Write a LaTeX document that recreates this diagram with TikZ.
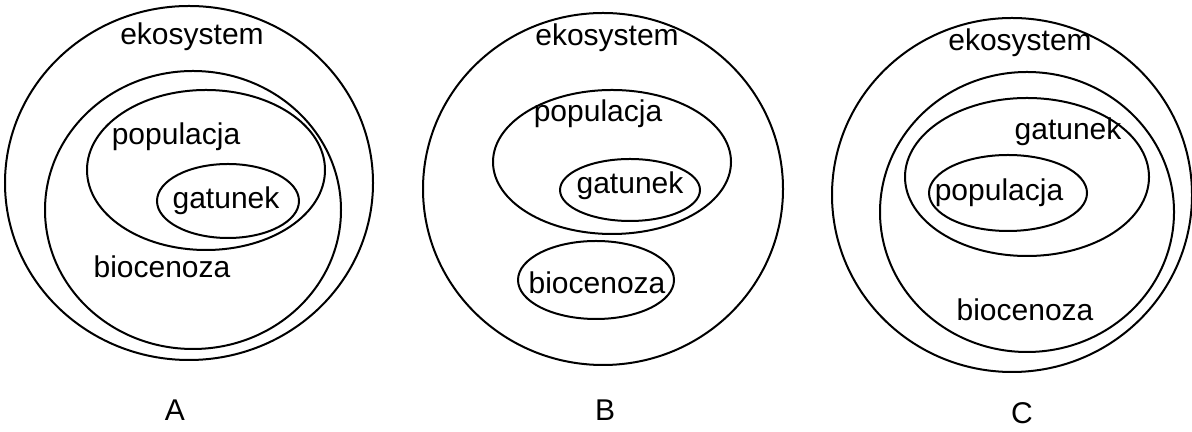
\documentclass[tikz,border=0pt]{standalone}
\usepackage{fontspec}
\setmainfont{Liberation Sans}
\begin{document}
\begin{tikzpicture}[x=0.5pt,y=0.5pt,
    lbl/.style={font=\fontsize{15}{17}\selectfont, inner sep=0pt},
    ring/.style={line width=1pt}]
    \useasboundingbox (0,0) rectangle (1192,432);
    % A
    \draw[ring] (189,249) ellipse (184 and 177);
    \draw[ring] (193,222) ellipse (148 and 139);
    \draw[ring] (206,262) ellipse (119 and 80);
    \draw[ring] (228,231) ellipse (71 and 37);
    \node[lbl] (ekoA) at (192,395) {ekosystem};
    \node[lbl] (popA) at (176,295) {populacja};
    \node[lbl] (gatA) at (226,231) {gatunek};
    \node[lbl] (bioA) at (162,165) {biocenoza};
    \node[lbl] (capA) at (175,22) {A};
    % B
    \draw[ring] (603,243) ellipse (180 and 176);
    \draw[ring] (612,270) ellipse (119 and 72);
    \draw[ring] (630,242) ellipse (70 and 31);
    \draw[ring] (596,152) ellipse (78 and 39);
    \node[lbl] (ekoB) at (607,394) {ekosystem};
    \node[lbl] (popB) at (598,318) {populacja};
    \node[lbl] (gatB) at (630,246) {gatunek};
    \node[lbl] (bioB) at (597,149) {biocenoza};
    \node[lbl] (capB) at (605,22) {B};
    % C
    \draw[ring] (1012,237) ellipse (180 and 177);
    \draw[ring] (1027,220) ellipse (147 and 140);
    \draw[ring] (1027,255) ellipse (122 and 79);
    \draw[ring] (1008,239) ellipse (79 and 38);
    \node[lbl] (ekoC) at (1020,389) {ekosystem};
    \node[lbl] (gatC) at (1068,300) {gatunek};
    \node[lbl] (popC) at (999,239) {populacja};
    \node[lbl] (bioC) at (1025,122) {biocenoza};
    \node[lbl] (capC) at (1022,19) {C};
\end{tikzpicture}
\end{document}
